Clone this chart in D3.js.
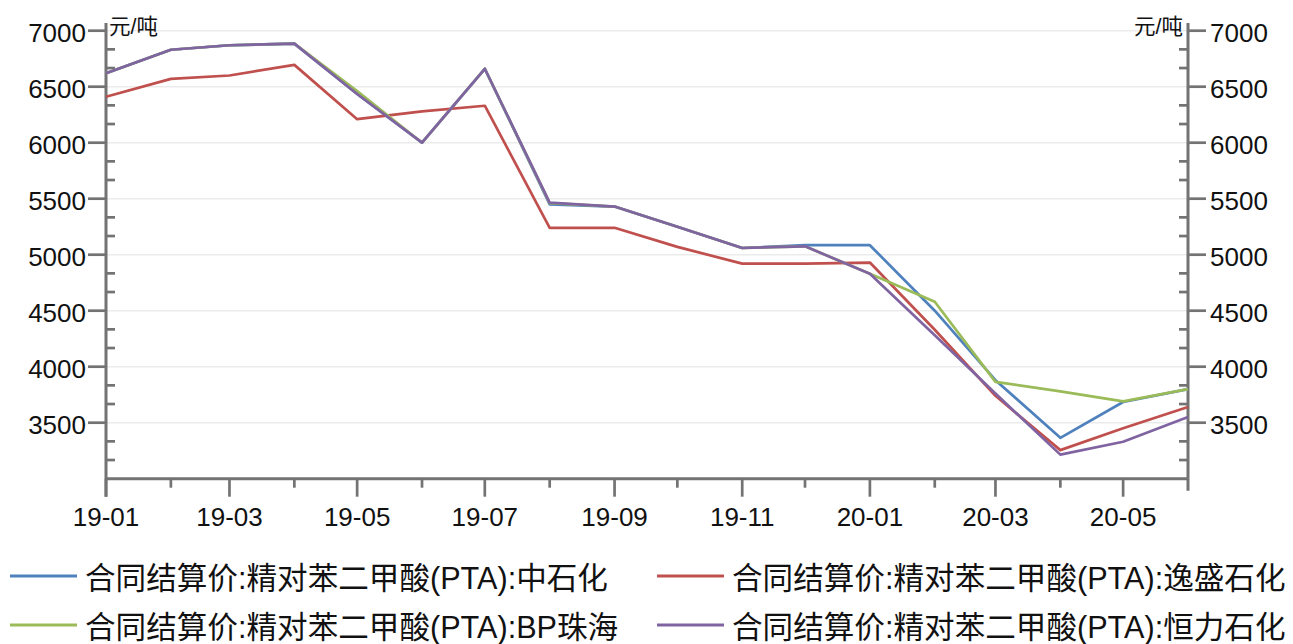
<!DOCTYPE html>
<html><head><meta charset="utf-8">
<script src="https://cdn.jsdelivr.net/npm/d3@7"></script>
<style>
html,body{margin:0;padding:0;background:#fff;}
svg{display:block;}
text{font-family:"Liberation Sans","Noto Sans CJK SC",sans-serif;fill:#111;}
</style></head>
<body>
<svg id="c" width="1293" height="644"></svg>
<script>
const months = ["2019-01","2019-02","2019-03","2019-04","2019-05","2019-06","2019-07","2019-08","2019-09","2019-10","2019-11","2019-12","2020-01","2020-02","2020-03","2020-04","2020-05","2020-06"];
const sinopec   = [6620,6830,6870,6885,6435,6000,6660,5450,5430,5250,5060,5085,5085,4500,3880,3365,3685,3800];
const yisheng   = [6410,6570,6600,6695,6210,6280,6330,5240,5240,5070,4920,4920,4930,4330,3740,3255,3450,3640];
const bpZhuhai  = [6620,6830,6870,6885,6460,6000,6660,5460,5430,5250,5060,5075,4830,4580,3865,3780,3690,3800];
const hengli    = [6620,6830,6870,6885,6435,6000,6660,5465,5430,5250,5060,5075,4830,4280,3760,3215,3330,3550];
const seriesNames = ["合同结算价:精对苯二甲酸(PTA):中石化","合同结算价:精对苯二甲酸(PTA):逸盛石化","合同结算价:精对苯二甲酸(PTA):BP珠海","合同结算价:精对苯二甲酸(PTA):恒力石化"];
const seriesColors = ["#4F81BD","#C0504D","#9BBB59","#8064A2"];
const yTicks = [3500,4000,4500,5000,5500,6000,6500,7000];
const unitLabel = "元/吨";

const parse = d3.timeParse("%Y-%m");
const dates = months.map(parse);
const series = [sinopec, yisheng, bpZhuhai, hengli];

const svg = d3.select("#c");
const L = 106, R = 1188, T = 30.7, B = 478.7;
const x = d3.scaleTime().domain([dates[0], dates[dates.length-1]]).range([L, R]);
const y = d3.scaleLinear().domain([3000, 7000]).range([B, T]);
const axisColor = "#737373";

// gridlines
svg.append("g").selectAll("line").data(yTicks).join("line")
  .attr("x1", L).attr("x2", R).attr("y1", d=>y(d)).attr("y2", d=>y(d))
  .attr("stroke", "#ebebeb").attr("stroke-width", 1.5);

// minor y ticks
const minor = d3.range(3000, 7001, 500/3).map(v=>Math.round(v*1000)/1000).filter(v => Math.abs(v % 500) > 1 && Math.abs(v%500-500)>1);
// left axis
const gL = svg.append("g");
gL.append("line").attr("x1", L).attr("x2", L).attr("y1", 23).attr("y2", B+18).attr("stroke", axisColor).attr("stroke-width", 3);
gL.selectAll(".maj").data(yTicks).join("line").attr("x1", L-18).attr("x2", L).attr("y1", d=>y(d)).attr("y2", d=>y(d)).attr("stroke", axisColor).attr("stroke-width", 2.7);
gL.selectAll(".min").data(minor).join("line").attr("x1", L).attr("x2", L+9).attr("y1", d=>y(d)).attr("y2", d=>y(d)).attr("stroke", axisColor).attr("stroke-width", 2.7);
gL.selectAll("text").data(yTicks).join("text").attr("x", L-20).attr("y", d=>y(d)+2).attr("text-anchor","end").attr("dominant-baseline","central").style("font-size","26px").text(d=>d);
svg.append("text").attr("x", L+3).attr("y", 27).attr("dominant-baseline","central").style("font-size","21.5px").text(unitLabel);

// right axis
const gR = svg.append("g");
gR.append("line").attr("x1", R).attr("x2", R).attr("y1", 23).attr("y2", B+12).attr("stroke", axisColor).attr("stroke-width", 3);
gR.selectAll(".maj").data(yTicks).join("line").attr("x1", R).attr("x2", R+18).attr("y1", d=>y(d)).attr("y2", d=>y(d)).attr("stroke", axisColor).attr("stroke-width", 2.7);
gR.selectAll(".min").data(minor).join("line").attr("x1", R-9).attr("x2", R).attr("y1", d=>y(d)).attr("y2", d=>y(d)).attr("stroke", axisColor).attr("stroke-width", 2.7);
gR.selectAll("text").data(yTicks).join("text").attr("x", R+22).attr("y", d=>y(d)+2).attr("text-anchor","start").attr("dominant-baseline","central").style("font-size","26px").text(d=>d);
svg.append("text").attr("x", R-5).attr("y", 27).attr("text-anchor","end").attr("dominant-baseline","central").style("font-size","21.5px").text(unitLabel);

// x axis
const gX = svg.append("g");
gX.append("line").attr("x1", L).attr("x2", R).attr("y1", B).attr("y2", B).attr("stroke", axisColor).attr("stroke-width", 3);
const xt = dates.slice(0, dates.length-1);
gX.selectAll("line.t").data(xt).join("line").attr("class","t")
  .attr("x1", d=>x(d)).attr("x2", d=>x(d)).attr("y1", B).attr("y2", (d,i)=> i%2===0 ? B+18 : B+9)
  .attr("stroke", axisColor).attr("stroke-width", 2.7);
gX.selectAll("text").data(xt.filter((d,i)=>i%2===0)).join("text")
  .attr("x", d=>x(d)).attr("y", 526).attr("text-anchor","middle").style("font-size","26px")
  .text(d=>d3.timeFormat("%y-%m")(d));

// lines
const line = d3.line().x((d,i)=>x(dates[i])).y(d=>y(d));
series.forEach((s,k)=>{
  svg.append("path").datum(s).attr("d", line).attr("fill","none")
    .attr("stroke", seriesColors[k]).attr("stroke-width", 2.7).attr("stroke-linejoin","round");
});

// legend
const legPos = [[10,578],[657,578],[10,627],[657,627]];
seriesNames.forEach((n,k)=>{
  const [lx, ly] = legPos[k];
  svg.append("line").attr("x1", lx).attr("x2", lx+67).attr("y1", ly-2).attr("y2", ly-2).attr("stroke", seriesColors[k]).attr("stroke-width", 3);
  svg.append("text").attr("x", lx+75).attr("y", ly).attr("dominant-baseline","central").style("font-size","30.6px").text(n);
});
</script>
</body></html>
